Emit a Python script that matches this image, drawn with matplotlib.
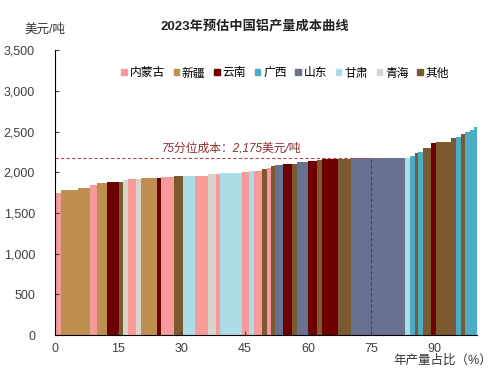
import numpy as np
import matplotlib
matplotlib.use("Agg")
import matplotlib.pyplot as plt
from matplotlib.patches import Patch
from matplotlib.ticker import FuncFormatter

plt.rcParams["font.family"] = ["Liberation Sans", "Noto Sans CJK SC", "DejaVu Sans"]

# legend order / region colours
regions = ["内蒙古", "新疆", "云南", "广西", "山东", "甘肃", "青海", "其他"]
region_colors = ["#F79A9A", "#BF8F50", "#6E0000", "#4BACC6", "#68718F", "#AEDCE6", "#D8D4CC", "#7C5A30"]

# production share (%) of each block, cost (USD/t) and region, left to right
shares = [1.54, 4.14, 2.80, 1.59, 2.37, 2.84, 1.02, 1.18, 1.87, 1.07,
          3.93, 0.95, 0.99, 2.01, 2.02, 2.84, 3.08, 2.01, 0.95, 5.09,
          1.85, 1.06, 1.95, 1.11, 0.95, 1.09, 1.87, 1.96, 1.19, 2.77,
          1.97, 1.18, 3.96, 2.91, 12.91, 1.06, 1.19, 0.83, 1.07, 1.89,
          1.18, 3.56, 1.18, 1.18, 0.95, 1.29, 0.80, 0.80]
costs = [1740, 1780, 1810, 1840, 1865, 1876, 1886, 1900, 1912, 1918,
         1929, 1932, 1938, 1945, 1957, 1957, 1960, 1974, 1976, 1986,
         2006, 2010, 2018, 2045, 2055, 2075, 2088, 2100, 2105, 2121,
         2141, 2150, 2158, 2162, 2170, 2178, 2199, 2232, 2252, 2293,
         2355, 2370, 2425, 2435, 2465, 2490, 2515, 2550]
block_region = ["内蒙古", "新疆", "新疆", "内蒙古", "新疆", "云南", "其他", "青海", "内蒙古", "青海",
                "新疆", "云南", "内蒙古", "内蒙古", "其他", "甘肃", "内蒙古", "青海", "内蒙古", "甘肃",
                "内蒙古", "甘肃", "内蒙古", "其他", "内蒙古", "其他", "山东", "云南", "其他", "山东",
                "云南", "其他", "云南", "其他", "山东", "甘肃", "广西", "其他", "广西", "其他",
                "云南", "其他", "其他", "广西", "其他", "广西", "广西", "广西"]

p75_share = 75
p75_cost = 2175

y_ticks = [0, 500, 1000, 1500, 2000, 2500, 3000, 3500]
x_ticks = [0, 15, 30, 45, 60, 75, 90]

color_of = dict(zip(regions, region_colors))
shares = np.array(shares)
lefts = np.concatenate([[0], np.cumsum(shares)[:-1]])

fig = plt.figure(figsize=(5, 3.74), dpi=100)
ax = fig.add_axes([0.109, 0.104, 0.845, 0.762])

ax.bar(lefts, costs, width=shares, align="edge",
       color=[color_of[r] for r in block_region], linewidth=0)

# 75th percentile markers
ax.plot([0, p75_share], [p75_cost, p75_cost], ls=(0, (3, 2)), lw=0.8, color="#A05050")
ax.plot([p75_share, p75_share], [0, p75_cost], ls=(0, (3, 2)), lw=0.8, color="#4A3A55")
ax.text(41.8, 2295, "75分位成本：2,175美元/吨", ha="center", va="center",
        fontsize=8.5, style="italic", color="#8B3030")

ax.set_xlim(0, 100)
ax.set_ylim(0, 3500)
ax.set_xticks(x_ticks)
ax.set_yticks(y_ticks)
ax.yaxis.set_major_formatter(FuncFormatter(lambda v, p: f"{int(v):,}"))
ax.tick_params(direction="in", length=3, labelsize=9, colors="#404040", pad=6)
ax.tick_params(axis="y", pad=14)
for s in ["top", "right"]:
    ax.spines[s].set_visible(False)
for s in ["left", "bottom"]:
    ax.spines[s].set_color("black")
    ax.spines[s].set_linewidth(0.8)

fig.text(0.51, 0.927, "2023年预估中国铝产量成本曲线", ha="center", va="center",
         fontsize=9.5, fontweight="bold", color="#222222")
fig.text(0.09, 0.92, "美元/吨", ha="center", va="center", fontsize=9, color="#333333")
fig.text(0.885, 0.035, "年产量占比（%）", ha="center", va="center", fontsize=9, color="#333333")

handles = [Patch(color=c, label=r) for r, c in zip(regions, region_colors)]
ax.legend(handles=handles, loc="center", bbox_to_anchor=(0.546, 0.918), ncol=8,
          frameon=False, fontsize=8.5, handlelength=0.45, handleheight=0.45,
          handletextpad=0.25, columnspacing=0.75)

fig.savefig("out.png", dpi=100)
